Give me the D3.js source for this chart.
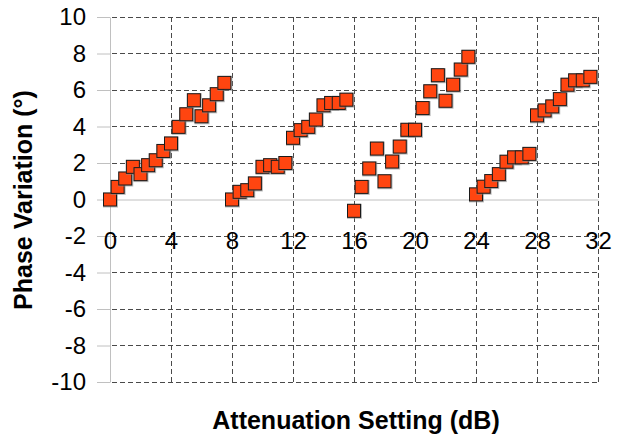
<!DOCTYPE html>
<html lang="en">
  <head>
    <meta charset="UTF-8" />
    <title>Phase Variation vs Attenuation Setting</title>
    <script src="https://d3js.org/d3.v7.min.js"></script>
    <style>
      body {
        margin: 0;
        background: #fff;
      }
      svg {
        font-family: 'Liberation Sans', Arial, sans-serif;
      }
    </style>
  </head>
  <body>
    <svg width="626" height="436"></svg>
    <script>
      const attenuation = [
        0, 0.5, 1, 1.5, 2, 2.5, 3, 3.5, 4, 4.5, 5, 5.5, 6, 6.5, 7, 7.5,
        8, 8.5, 9, 9.5, 10, 10.5, 11, 11.5, 12, 12.5, 13, 13.5, 14, 14.5, 15, 15.5,
        16, 16.5, 17, 17.5, 18, 18.5, 19, 19.5, 20, 20.5, 21, 21.5, 22, 22.5, 23, 23.5,
        24, 24.5, 25, 25.5, 26, 26.5, 27, 27.5, 28, 28.5, 29, 29.5, 30, 30.5, 31, 31.5,
      ];
      const phase = [
        0, 0.69, 1.15, 1.79, 1.39, 1.88, 2.15, 2.66, 3.07, 3.98, 4.67, 5.44, 4.56, 5.16, 5.77, 6.39,
        0, 0.42, 0.51, 0.88, 1.79, 1.88, 1.79, 2.0, 3.38, 3.8, 3.98, 4.38, 5.16, 5.29, 5.29, 5.47,
        -0.62, 0.69, 1.7, 2.79, 1.0, 2.08, 2.9, 3.82, 3.82, 5.01, 5.93, 6.81, 5.41, 6.29, 7.12, 7.82,
        0.28, 0.7, 1.01, 1.39, 2.07, 2.31, 2.31, 2.5, 4.61, 4.88, 5.1, 5.5, 6.29, 6.53, 6.53, 6.72,
      ];
      const xTicks = [0, 4, 8, 12, 16, 20, 24, 28, 32];
      const yTicks = [-10, -8, -6, -4, -2, 0, 2, 4, 6, 8, 10];

      const data = attenuation.map((a, i) => ({ a, p: phase[i] }));

      const svg = d3.select('svg');
      const x = d3.scaleLinear().domain([0, 32]).range([110, 598]);
      const y = d3.scaleLinear().domain([-10, 10]).range([382, 17]);

      // dashed grid
      const grid = svg
        .append('g')
        .attr('stroke', '#4a4a4a')
        .attr('stroke-width', 1)
        .attr('stroke-dasharray', '5,3')
        .attr('shape-rendering', 'crispEdges');

      grid
        .selectAll('line.h')
        .data(yTicks.filter((d) => d !== 0))
        .join('line')
        .attr('class', 'h')
        .attr('x1', x(0) + 2)
        .attr('x2', x(32))
        .attr('y1', (d) => y(d))
        .attr('y2', (d) => y(d));

      grid
        .selectAll('line.v')
        .data(xTicks.filter((d) => d !== 0))
        .join('line')
        .attr('class', 'v')
        .attr('x1', (d) => x(d))
        .attr('x2', (d) => x(d))
        .attr('y1', y(10))
        .attr('y2', y(-10));

      // y axis (plain hyphen for negatives, like the original)
      const yAxis = svg
        .append('g')
        .attr('transform', `translate(${x(0)},0)`)
        .call(
          d3
            .axisLeft(y)
            .tickValues(yTicks)
            .tickFormat((d) => String(d))
            .tickSize(13)
            .tickSizeOuter(0)
            .tickPadding(11),
        );
      yAxis.select('.domain').attr('stroke', '#c0c0c0');
      yAxis.selectAll('.tick line').attr('stroke', '#c0c0c0');
      yAxis
        .selectAll('.tick text')
        .attr('font-size', 24)
        .attr('fill', '#000')
        .attr('font-family', "'Liberation Sans', Arial, sans-serif");

      // x axis along zero line
      const xAxis = svg
        .append('g')
        .attr('transform', `translate(0,${y(0)})`)
        .call(
          d3
            .axisBottom(x)
            .tickValues(xTicks)
            .tickFormat((d) => String(d))
            .tickSize(0)
            .tickSizeOuter(0)
            .tickPadding(32),
        );
      xAxis.select('.domain').attr('stroke', '#c0c0c0');
      xAxis
        .selectAll('.tick text')
        .attr('font-size', 24)
        .attr('fill', '#000')
        .attr('font-family', "'Liberation Sans', Arial, sans-serif");

      // markers
      const s = 13;
      const pts = svg
        .append('g')
        .selectAll('g')
        .data(data)
        .join('g')
        .attr('transform', (d) => `translate(${x(d.a)},${y(d.p)})`);
      pts
        .append('rect')
        .attr('x', -s / 2 - 0.5)
        .attr('y', -s / 2 - 0.5)
        .attr('width', s + 2)
        .attr('height', s + 2)
        .attr('fill', '#8a8a8a')
        .attr('opacity', 0.6);
      pts
        .append('rect')
        .attr('x', -s / 2)
        .attr('y', -s / 2)
        .attr('width', s)
        .attr('height', s)
        .attr('fill', '#ff4510')
        .attr('stroke', '#1a1a1a')
        .attr('stroke-width', 1);

      // titles
      svg
        .append('text')
        .attr('x', 356)
        .attr('y', 429)
        .attr('text-anchor', 'middle')
        .attr('font-size', 25)
        .attr('font-weight', 'bold')
        .text('Attenuation Setting (dB)');

      svg
        .append('text')
        .attr('transform', 'translate(32,200) rotate(-90)')
        .attr('text-anchor', 'middle')
        .attr('font-size', 25)
        .attr('font-weight', 'bold')
        .text('Phase Variation (°)');
    </script>
  </body>
</html>
